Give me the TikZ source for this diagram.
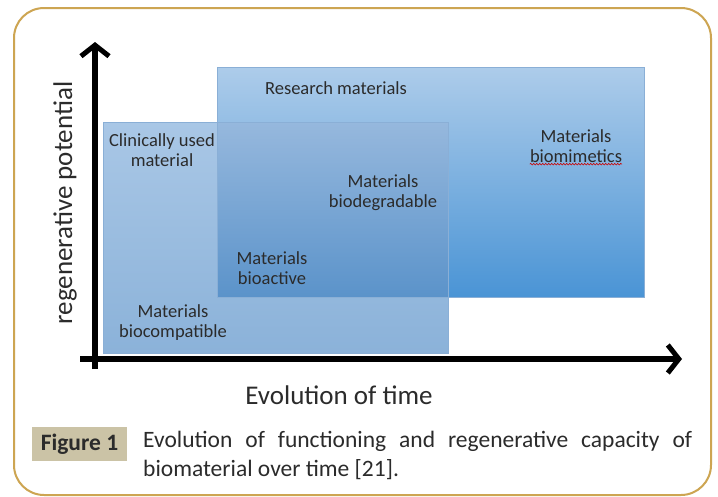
\documentclass[tikz,border=0pt]{standalone}
\usepackage{fontspec}
\setmainfont{Carlito}
\usetikzlibrary{arrows.meta,decorations.pathmorphing}
\definecolor{frame}{HTML}{CDA552}
\definecolor{capbox}{HTML}{CBC3A6}
\definecolor{edgeblue}{HTML}{8AAFD6}
\definecolor{btop}{HTML}{ADCCEA}
\definecolor{bbot}{HTML}{4A94D5}
\definecolor{atop}{HTML}{A9C7E6}
\definecolor{abot}{HTML}{8BB2D9}
\definecolor{otop}{HTML}{96B8DD}
\definecolor{obot}{HTML}{5B93CA}
\definecolor{txt}{HTML}{2B2B2B}
\tikzset{
  lbl/.style={align=center,font=\fontsize{18.5}{20}\selectfont,text=txt,inner sep=0pt},
  axislbl/.style={font=\fontsize{27}{30}\selectfont,text=txt,inner sep=0pt},
  axisline/.style={line width=6pt,-{Straight Barb[length=11pt,width=28pt,line width=5pt]}},
}
\begin{document}
\begin{tikzpicture}[x=1pt,y=-1pt]
\useasboundingbox (0,0) rectangle (718,496);
\fill[white] (0,0) rectangle (718,496);
% frame
\draw[frame,line width=2pt,rounded corners=30pt] (14,8) rectangle (711,495);
% boxes
\shade[top color=btop, bottom color=bbot] (217,67) rectangle (644,297);
\shade[top color=atop, bottom color=abot] (103,122) rectangle (448,353);
\shade[top color=otop, bottom color=obot] (217,122) rectangle (448,297);
\draw[edgeblue,line width=0.8pt] (217,67) rectangle (644,297);
\draw[edgeblue,line width=0.8pt] (103,122) rectangle (448,353);
% axes
\coordinate (yb) at (95,369);
\coordinate (yt) at (95,42);
\coordinate (xl) at (80,359);
\coordinate (xr) at (682,359);
\draw[axisline] (yb) -- (yt);
\draw[axisline] (xl) -- (xr);
% labels
\node[lbl] (research) at (336,88) {Research materials};
\node[lbl] (clinic) at (162,150) {Clinically used\\material};
\node[lbl] (degr) at (383,193) {Materials\\biodegradable};
\node[lbl] (mimet) at (576,146) {Materials\\biomimetics};
\node[lbl] (bioact) at (272,268) {Materials\\bioactive};
\node[lbl] (biocomp) at (173,323) {Materials\\biocompatible};
\draw[red!80!black,line width=0.6pt,decorate,decoration={snake,segment length=3pt,amplitude=0.8pt}] (mimet.south west) ++(0,1.5) coordinate (wa) -- (mimet.south east |- wa);
\node[axislbl,rotate=90] (ylab) at (65,203) {regenerative potential};
\node[axislbl] (xlab) at (339,395) {Evolution of time};
% caption
\fill[capbox] (32,427) rectangle (127,461);
\node[font=\fontsize{23.5}{26}\selectfont\bfseries,text=txt,inner sep=0pt] (fig) at (79.5,444) {Figure 1};
\node[anchor=north west,text width=549pt,align=justify,inner sep=0pt,font=\fontsize{23.5}{29}\selectfont,text=txt] (cap) at (143,431) {Evolution of functioning and regenerative capacity of\linebreak biomaterial over time [21].};
\end{tikzpicture}
\end{document}
